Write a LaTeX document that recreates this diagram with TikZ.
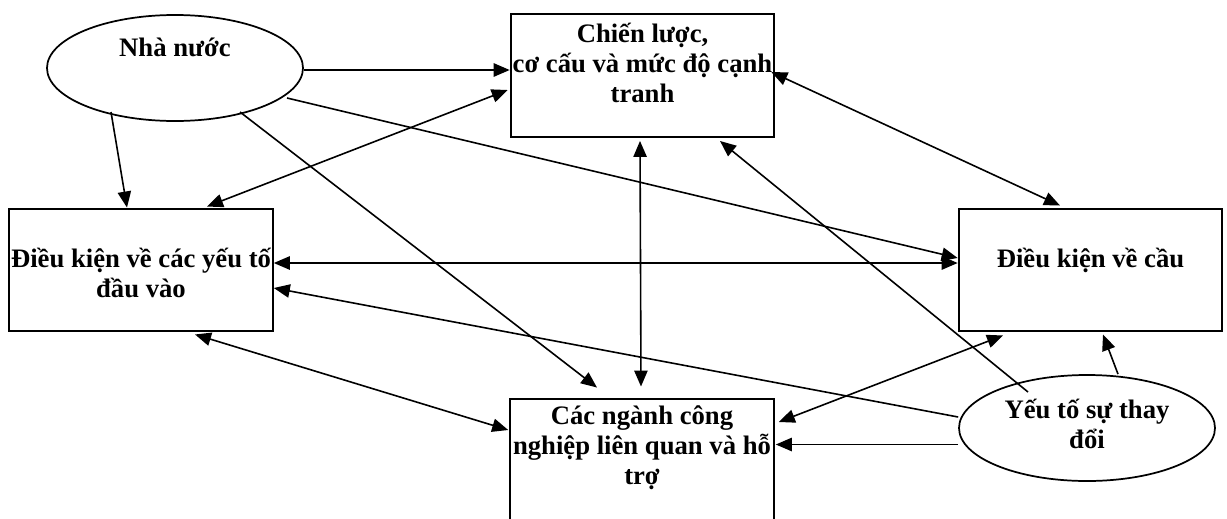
\documentclass[tikz,border=0pt]{standalone}
\usepackage{fontspec}
\setmainfont{Liberation Serif}
\usetikzlibrary{arrows.meta,shapes.geometric}
\tikzset{
  boxshape/.style={draw, line width=1.7pt, minimum width=197.5pt, minimum height=92pt, inner sep=0pt},
  ellshape/.style={draw, ellipse, line width=1.3pt, minimum width=192pt, minimum height=79.5pt, inner sep=0pt},
  lbl/.style={align=center, font=\bfseries\fontsize{20}{22.5}\selectfont, inner sep=0pt},
  tip/.style={},
  conn/.style={line width=1.2pt, -{Triangle[length=12pt,width=10pt]}},
  dconn/.style={line width=1.2pt, {Triangle[length=12pt,width=10pt]}-{Triangle[length=12pt,width=10pt]}},
}
\begin{document}
\begin{tikzpicture}[x=0.75pt,y=-0.75pt]
\useasboundingbox (0,0) rectangle (1227,518);
\clip (0,0) rectangle (1227,518);
% nodes
\node[ellshape] (gov) at (175,68) {};
\node[lbl] (govt) at (175,47) {Nhà nước};
\node[boxshape] (T) at (642.5,75.5) {};
\node[lbl] (Tt) at (642.5,63) {Chiến lược,\\cơ cấu và mức độ cạnh\\tranh};
\node[boxshape] (L) at (141,270) {};
\node[lbl] (Lt) at (141,273) {Điều kiện về các yếu tố\\đầu vào};
\node[boxshape] (R) at (1090.5,270) {};
\node[lbl] (Rt) at (1090.5,260) {Điều kiện về cầu};
\node[boxshape] (B) at (642,460) {};
\node[lbl] (Bt) at (642,448) {Các ngành công\\nghiệp liên quan và hỗ\\trợ};
\node[ellshape] (C) at (1087,428) {};
\node[lbl] (Ct) at (1087,424) {Yếu tố sự thay\\đổi};
% connectors
\draw[conn] ([shift={(0,2)}]gov.east) -- ([shift={(0,-5.5)}]T.west);
\draw[conn] ([shift={(112,30)}]gov.center) -- ([shift={(0,-12)}]R.west);
\draw[conn] ([shift={(-64,44)}]gov.center) -- ([shift={(-14,0)}]L.north);
\draw[conn] ([shift={(65,44)}]gov.center) -- ([shift={(-45,-10)}]B.north);
\draw[dconn] ([shift={(-2,14.5)}]T.west) -- ([shift={(66,-1)}]L.north);
\draw[dconn] ([shift={(-2.5,3)}]T.south) -- ([shift={(-1,-11)}]B.north);
\draw[conn] ([shift={(-59,-36)}]C.center) -- ([shift={(77.5,3)}]T.south);
\draw[dconn] ([shift={(-4,-3.5)}]T.east) -- ([shift={(-30.5,-2)}]R.north);
\draw[dconn] ([shift={(0,-7)}]L.east) -- ([shift={(0,-7)}]R.west);
\draw[conn] ([shift={(0,-11)}]C.west) -- ([shift={(0,18)}]L.east);
\draw[dconn] ([shift={(54,2)}]L.south) -- ([shift={(-1,-30)}]B.west);
\draw[conn] ([shift={(0,16.5)}]C.west) -- ([shift={(1,-15.5)}]B.east);
\draw[dconn] ([shift={(4,-38)}]B.east) -- ([shift={(-87.5,3)}]R.south);
\draw[conn] ([shift={(31,0)}]C.north) -- ([shift={(12.5,2)}]R.south);
\end{tikzpicture}
\end{document}
